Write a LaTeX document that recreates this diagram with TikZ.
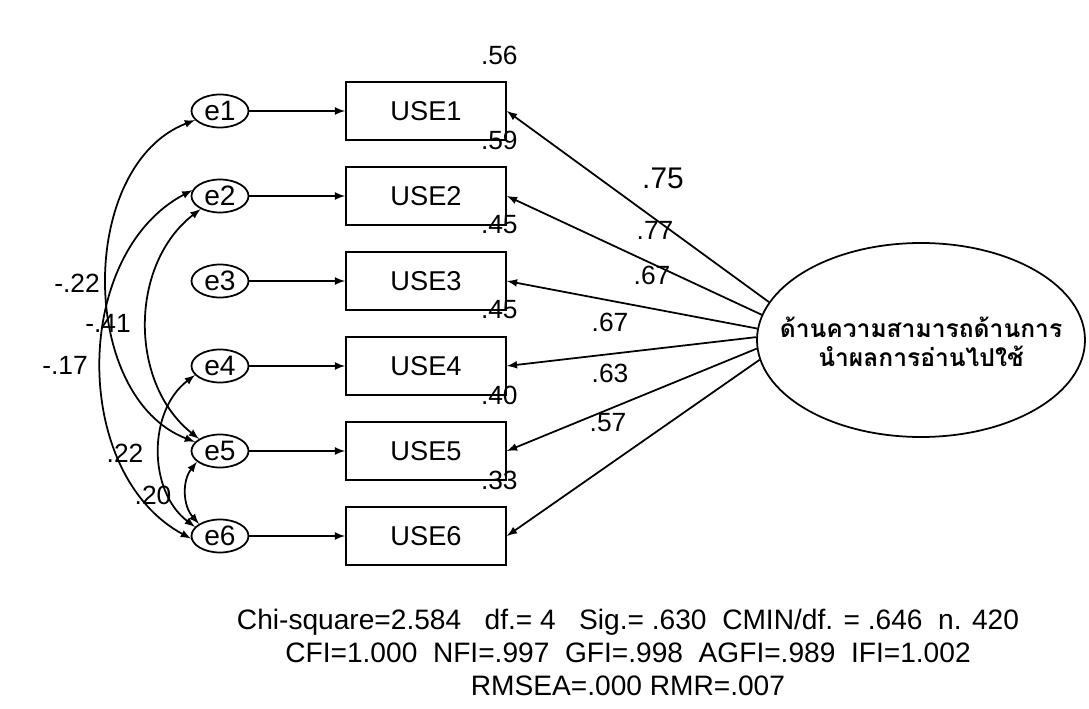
\documentclass[tikz,border=0pt]{standalone}
\usepackage{fontspec}
\setmainfont{Liberation Sans}
\newfontfamily\thaifont[Script=Thai]{Loma}
\usetikzlibrary{shapes.geometric, arrows, positioning}

\begin{document}
\begin{tikzpicture}[
    every node/.style={font=\fontsize{15}{17}\selectfont},
    errnode/.style={draw, ellipse, minimum width=1.14cm, minimum height=0.66cm, inner sep=0pt, line width=1pt, font=\fontsize{16}{18}\selectfont},
    obsbox/.style={draw, rectangle, minimum width=3.2cm, minimum height=1.16cm, line width=1pt, font=\fontsize{15.5}{18}\selectfont},
    regline/.style={-latex, line width=1pt},
    covline/.style={latex-latex, line width=1pt}
]
\useasboundingbox (0,0) rectangle (21.78,14.16);

% error terms and observed variables
\foreach \i in {1,...,6} {
    \node[errnode] (e\i) at (4.4, {11.94-1.7*(\i-1)}) {e\i};
    \node[obsbox] (use\i) at (8.52, {11.94-1.7*(\i-1)}) {USE\i};
    \draw[regline] (e\i) -- (use\i);
}

% squared multiple correlations
\foreach \i/\r in {1/.56, 2/.59, 3/.45, 4/.45, 5/.40, 6/.33}
    \node[anchor=east, inner sep=0pt] (r\i) at (10.36, {11.94-1.7*(\i-1)+1.12}) {\r};

% latent factor
\node[draw, ellipse, minimum width=6.56cm, minimum height=3.88cm, line width=1pt] (reading) at (18.42,7.36) {};
\node[align=center, font=\fontsize{14}{16.5}\selectfont\thaifont\bfseries] (readtext) at (18.42,7.32)
    {ด้านความสามารถด้านการ\\นำผลการอ่านไปใช้};

\draw[regline] (reading.166) -- (use1.east);
\draw[regline] (reading.171) -- (use2.east);
\draw[regline] (reading.176) -- (use3.east);
\draw[regline] (reading.179) -- (use4.east);
\draw[regline] (reading.183) -- (use5.east);
\draw[regline] (reading.187) -- (use6.east);

% loadings
\node (l1) at (13.26,10.6) {\fontsize{17}{19}\selectfont .75};
\node (l2) at (13.1,9.56) {.77};
\node (l3) at (13.04,8.66) {.67};
\node (l4) at (12.2,7.72) {.67};
\node (l5) at (12.2,6.7) {.63};
\node (l6) at (12.16,5.7) {.57};

% covariances
\draw[covline] (e1.200) to[bend right=69] (e5.160);
\draw[covline] (e2.168) to[bend right=62] (e6.185);
\draw[covline] (e2.214) to[bend right=52] (e5.150);
\draw[covline] (e4.200) to[bend right=53] (e6.160);
\draw[covline] (e5.205) to[bend right=40] (e6.150);

\node (c15) at (1.54,8.5) {-.22};
\node (c25) at (2.16,7.7) {-.41};
\node (c26) at (1.3,6.86) {-.17};
\node (c46) at (2.5,5.1) {.22};
\node (c56) at (3.06,4.26) {.20};

% fit indices
\node[align=center, font=\fontsize{16}{18.8}\selectfont] (fit) at (12.56,1.12)
    {Chi-square=2.584\ \ \ df.= 4\ \ \ Sig.= .630\ \ CMIN/df. = .646\ \ n. 420\\
     CFI=1.000\ \ NFI=.997\ \ GFI=.998\ \ AGFI=.989\ \ IFI=1.002\\
     RMSEA=.000 RMR=.007};
\end{tikzpicture}
\end{document}
